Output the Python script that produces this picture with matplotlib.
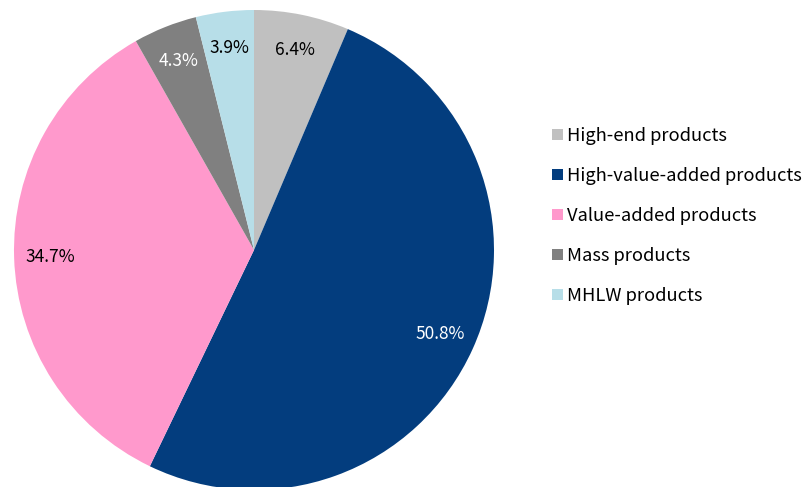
import matplotlib
matplotlib.use("Agg")
import matplotlib.pyplot as plt
from matplotlib.patches import Patch

plt.rcParams["font.family"] = ["Noto Sans CJK JP", "DejaVu Sans"]

# Data (percent share, clockwise from 12 o'clock)
categories = ["High-end products", "High-value-added products",
              "Value-added products", "Mass products", "MHLW products"]
shares = [6.4, 50.8, 34.7, 4.3, 3.9]

colors = ["#C0C0C0", "#033D7E", "#FF99CC", "#808080", "#B7DEE8"]
label_colors = ["black", "white", "black", "white", "black"]

fig = plt.figure(figsize=(8.12, 4.87), dpi=100)
ax = fig.add_axes([14 / 812, -3 / 487, 480 / 812, 480 / 487])

wedges, texts, autotexts = ax.pie(
    shares, colors=colors, startangle=90, counterclock=False,
    autopct="%.1f%%", pctdistance=0.85, normalize=True,
    wedgeprops=dict(linewidth=0),
    textprops=dict(fontsize=12.5),
)
# show the published figures, not the renormalised ones
for t, v, c in zip(autotexts, shares, label_colors):
    t.set_text(f"{v:.1f}%")
    t.set_color(c)
ax.set_aspect("equal")
ax.set_xlim(-1, 1)
ax.set_ylim(-1, 1)

handles = [Patch(facecolor=c, edgecolor="none") for c in colors]
fig.legend(handles, categories, loc="center left",
           bbox_to_anchor=(536 / 812, 1 - 216 / 487),
           frameon=False, fontsize=13.2, handlelength=0.6, handleheight=0.6,
           handletextpad=0.2, labelspacing=1.2)

fig.savefig("out.png", dpi=100)
